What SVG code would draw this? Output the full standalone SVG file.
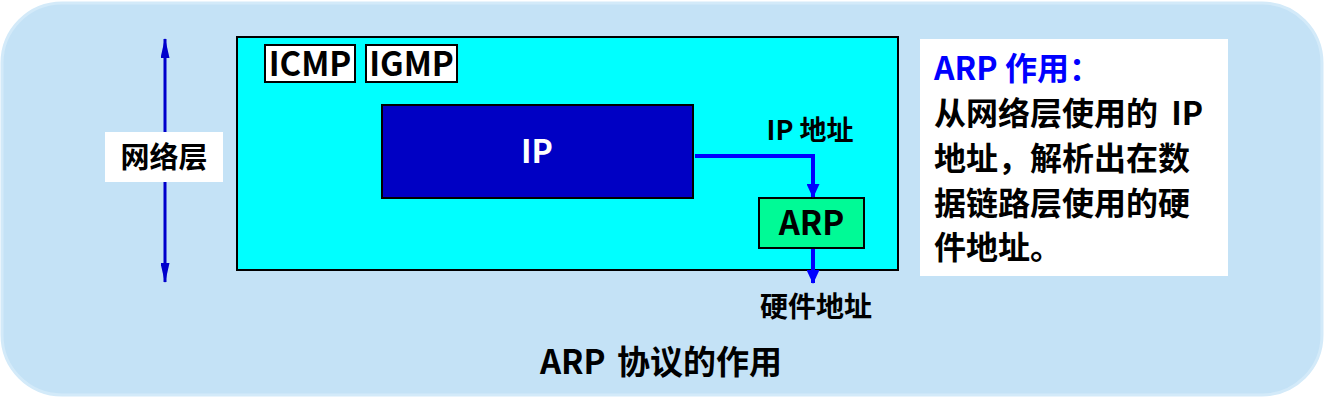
<svg xmlns="http://www.w3.org/2000/svg" width="1325" height="401" viewBox="0 0 1325 401">
<style>
.t{font-family:"Noto Sans CJK SC","Noto Sans",sans-serif;font-weight:bold;fill:#000}
.box{stroke:#000;stroke-width:2}
.conn{fill:none;stroke:#0000FF;stroke-width:4}
</style>
<defs>
<marker id="ah" viewBox="0 0 14 13" refX="13" refY="6.5" markerWidth="14" markerHeight="13" orient="auto" markerUnits="userSpaceOnUse">
<path d="M0,0 L14,6.5 L0,13 z" fill="#0000FF"/>
</marker>
<marker id="lh" viewBox="0 0 20 9" refX="19" refY="4.5" markerWidth="20" markerHeight="9" orient="auto-start-reverse" markerUnits="userSpaceOnUse">
<path d="M0,0 L20,4.5 L0,9 z" fill="#0000CC"/>
</marker>
</defs>
<rect x="2" y="3" width="1320" height="392" rx="60" ry="60" fill="#C4E2F6" stroke="#D3EAF9" stroke-width="3"/>
<g id="layer">
<line x1="165" y1="39" x2="165" y2="282" stroke="#0000CC" stroke-width="3" marker-start="url(#lh)" marker-end="url(#lh)"/>
<rect x="105" y="132" width="118" height="50" fill="#fff"/>
<text class="t" x="164" y="168" font-size="29" text-anchor="middle">网络层</text>
</g>
<g id="network">
<rect class="box" x="237" y="37" width="661" height="233" fill="#00FFFF"/>
</g>
<g id="icmp">
<rect class="box" x="265" y="45" width="90" height="37" fill="#fff"/>
<text class="t" x="310" y="76" font-size="33" text-anchor="middle">ICMP</text>
</g>
<g id="igmp">
<rect class="box" x="366" y="45" width="91" height="37" fill="#fff"/>
<text class="t" x="411.5" y="76" font-size="33" text-anchor="middle">IGMP</text>
</g>
<g id="ip">
<rect class="box" x="382" y="105" width="311" height="93" fill="#0000C4"/>
<text class="t" x="537" y="163" font-size="32" text-anchor="middle" style="fill:#fff">IP</text>
</g>
<g id="arp">
<rect class="box" x="759" y="198" width="105" height="50" fill="#00FA96"/>
<text class="t" x="811.5" y="235" font-size="33" text-anchor="middle">ARP</text>
</g>
<g id="connectors">
<path class="conn" d="M695,156 H813 V197" marker-end="url(#ah)"/>
<path class="conn" d="M813,249 V283" marker-end="url(#ah)"/>
</g>
<g id="labels">
<text class="t" x="810" y="140" font-size="27" text-anchor="middle">IP 地址</text>
<text class="t" x="816" y="317" font-size="28" text-anchor="middle">硬件地址</text>
</g>
<g id="note">
<rect x="920" y="39" width="308" height="237" fill="#fff"/>
<text class="t" x="934" y="80" font-size="32" style="fill:#0000FF">ARP 作用：</text>
<text class="t" x="934" y="125" font-size="32" word-spacing="6">从网络层使用的 IP</text>
<text class="t" x="934" y="170" font-size="32">地址，解析出在数</text>
<text class="t" x="934" y="215" font-size="32">据链路层使用的硬</text>
<text class="t" x="934" y="259" font-size="32">件地址。</text>
</g>
<text class="t" x="661" y="374" font-size="33" text-anchor="middle" word-spacing="4">ARP 协议的作用</text>
</svg>
